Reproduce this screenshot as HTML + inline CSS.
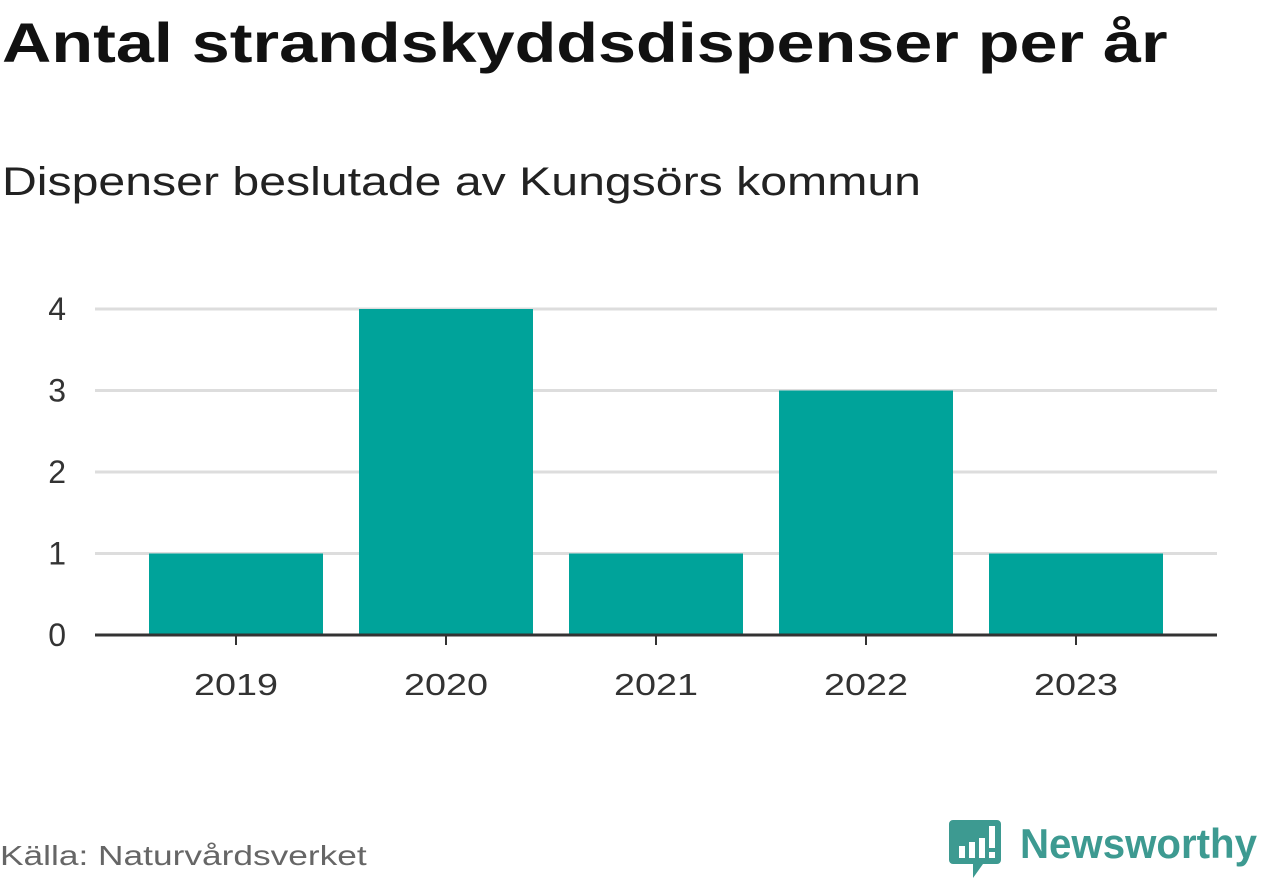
<!DOCTYPE html>
<html><head><meta charset="utf-8"><style>
body{margin:0;width:1262px;height:879px;background:#fff;font-family:"Liberation Sans",sans-serif;overflow:hidden;position:relative}
#title{position:absolute;left:2px;top:10px;font-size:56px;font-weight:bold;color:#111;white-space:nowrap;transform:scaleX(1.22);transform-origin:0 0}
#sub{position:absolute;left:2px;top:160px;font-size:40px;color:#222;white-space:nowrap;transform:scaleX(1.205);transform-origin:0 0}
#src{position:absolute;left:0;top:840px;font-size:28px;color:#666;white-space:nowrap;transform:scaleX(1.26);transform-origin:0 0}
</style></head><body>
<div id="title">Antal strandskyddsdispenser per år</div>
<div id="sub">Dispenser beslutade av Kungsörs kommun</div>
<svg id="chart" width="1262" height="879" style="position:absolute;left:0;top:0"></svg>
<div id="src">Källa: Naturvårdsverket</div>
<svg width="320" height="70" style="position:absolute;left:945px;top:812px">
<path d="M8 8 h44 a4 4 0 0 1 4 4 v36 a4 4 0 0 1 -4 4 h-14 l-10 14 v-14 h-20 a4 4 0 0 1 -4 -4 v-36 a4 4 0 0 1 4 -4z" fill="#3d9a91"/>
<rect x="14" y="34" width="6" height="12" fill="#fff"/><rect x="24" y="30" width="6" height="16" fill="#fff"/><rect x="34" y="26" width="6" height="20" fill="#fff"/><rect x="44" y="14" width="6" height="22" fill="#fff"/><rect x="44" y="40" width="6" height="6" fill="#fff"/>
<text x="75" y="46" font-family="Liberation Sans, sans-serif" font-size="42" font-weight="bold" fill="#3d9a91" textLength="237" lengthAdjust="spacingAndGlyphs">Newsworthy</text>
</svg>
<script>
const categories=["2019","2020","2021","2022","2023"];
const values=[1,4,1,3,1];
const yTicks=[0,1,2,3,4];
const ns="http://www.w3.org/2000/svg";
const svg=document.getElementById('chart');
const x0=95,x1=1217,yBase=635,yTop=309,yMax=4;
const step=210;
const y=v=>yBase-(yBase-yTop)*v/yMax;
const xc=i=>236+i*step;
function mk(t,a){const e=document.createElementNS(ns,t);for(const k in a)e.setAttribute(k,a[k]);svg.appendChild(e);return e;}
yTicks.forEach(t=>{
  if(t>0){const g=mk('line',{x1:x0,x2:x1,y1:y(t),y2:y(t),stroke:'#ddd','stroke-width':3});
  
  }
  const l=mk('text',{x:66,y:y(t)+11,'text-anchor':'end','font-size':32,fill:'#333','font-family':'Liberation Sans, sans-serif'});
  l.textContent=t;
  
  
});
const bw=174;
categories.forEach((c,i)=>{
  const r=mk('rect',{x:xc(i)-bw/2,y:y(values[i]),width:bw,height:yBase-y(values[i]),fill:'#00a39a'});
  
  
  const tk=mk('line',{x1:xc(i),x2:xc(i),y1:yBase,y2:yBase+10,stroke:'#333','stroke-width':2});
  
  
  const t=mk('text',{x:xc(i),y:695,'text-anchor':'middle','font-size':31,fill:'#333','font-family':'Liberation Sans, sans-serif',textLength:84,lengthAdjust:'spacingAndGlyphs'});
  t.textContent=c;
  
  
});
const ax=mk('line',{x1:x0,x2:x1,y1:yBase,y2:yBase,stroke:'#333','stroke-width':3});


</script>
</body></html>
